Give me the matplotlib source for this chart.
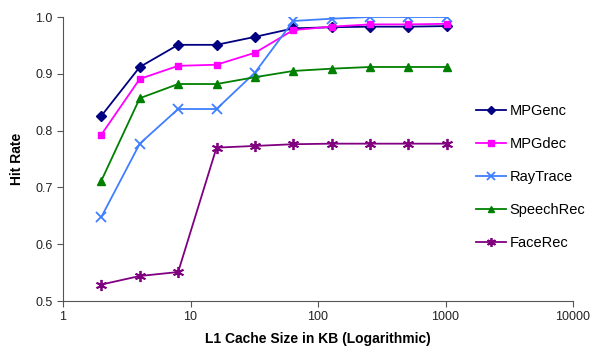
import matplotlib
matplotlib.use('Agg')
from matplotlib import pyplot as plt

cache_kb = [2, 4, 8, 16, 32, 64, 128, 256, 512, 1024]
mpgenc = [0.826, 0.912, 0.951, 0.951, 0.965, 0.980, 0.982, 0.983, 0.983, 0.984]
mpgdec = [0.793, 0.891, 0.914, 0.916, 0.937, 0.977, 0.983, 0.987, 0.987, 0.988]
raytrace = [0.648, 0.777, 0.838, 0.838, 0.902, 0.993, 0.997, 1.0, 1.0, 1.0]
speechrec = [0.712, 0.857, 0.882, 0.882, 0.894, 0.905, 0.909, 0.912, 0.912, 0.912]
facerec = [0.529, 0.544, 0.551, 0.770, 0.773, 0.776, 0.777, 0.777, 0.777, 0.777]

plt.rcParams['font.family'] = ['Liberation Sans', 'DejaVu Sans']

fig = plt.figure(figsize=(5.97, 3.54), dpi=100)
ax = fig.add_axes([63/597, 1 - 301/354, (573 - 63)/597, (301 - 17)/354])

ax.plot(cache_kb, mpgenc, color='#000080', marker='D', markersize=5, lw=1.3, label='MPGenc')
ax.plot(cache_kb, mpgdec, color='#FF00FF', marker='s', markersize=5, lw=1.3, label='MPGdec')
ax.plot(cache_kb, raytrace, color='#3F7FFF', marker='x', markersize=7, mew=1.3, lw=1.3, label='RayTrace')
ax.plot(cache_kb, speechrec, color='#008000', marker='^', markersize=6, lw=1.3, label='SpeechRec')
ax.plot(cache_kb, facerec, color='#800080', marker=(6, 2, 0), markersize=8, mew=1.3, lw=1.3, label='FaceRec')

ax.set_xscale('log')
ax.set_xlim(1, 10000)
ax.set_ylim(0.5, 1.0)
ax.set_xticks([1, 10, 100, 1000, 10000])
ax.set_xticklabels(['1', '10', '100', '1000', '10000'])
ax.minorticks_off()
ax.set_yticks([0.5, 0.6, 0.7, 0.8, 0.9, 1.0])
ax.set_yticklabels(['0.5', '0.6', '0.7', '0.8', '0.9', '1.0'])
ax.tick_params(labelsize=9, direction='out', length=4, width=0.8, color='#555555', labelcolor='#222222')
ax.spines['top'].set_visible(False)
ax.spines['right'].set_visible(False)
for s in ['left', 'bottom']:
    ax.spines[s].set_color('#555555')

ax.set_xlabel('L1 Cache Size in KB (Logarithmic)', fontsize=10, fontweight='bold', labelpad=6)
ax.set_ylabel('Hit Rate', fontsize=10, fontweight='bold', labelpad=8)

fig.legend(loc='upper left', bbox_to_anchor=(463/597, 1 - 91/354), frameon=False,
           fontsize=10.5, handlelength=2.05, labelspacing=1.3, handletextpad=0.25,
           markerscale=0.8)

fig.savefig('out.png', dpi=100)
